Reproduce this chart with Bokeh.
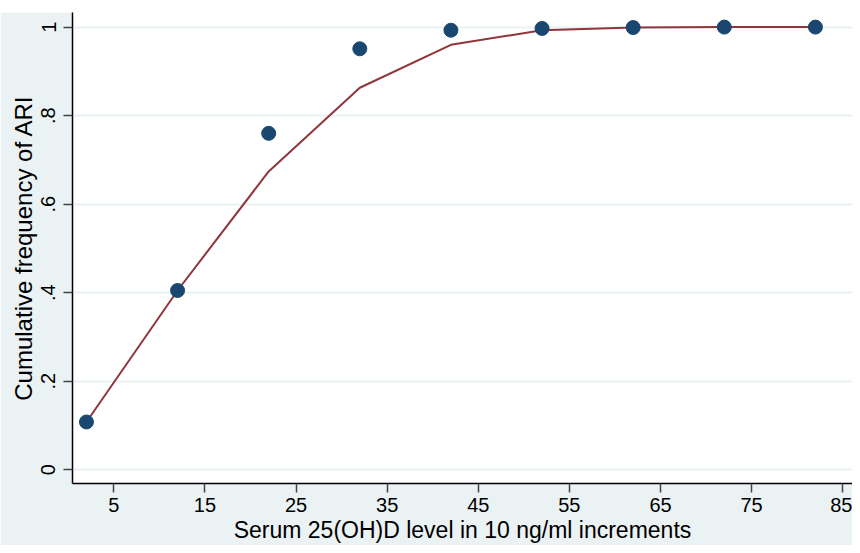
from bokeh.plotting import figure
from bokeh.models import FixedTicker, Range1d, Spacer
from bokeh.layouts import column
from bokeh.embed import file_html
from bokeh.resources import INLINE

# Data
x_levels = [2, 12, 22, 32, 42, 52, 62, 72, 82]
observed = [0.108, 0.405, 0.760, 0.951, 0.993, 0.997, 0.999, 1.0, 1.0]
fitted = [0.108, 0.405, 0.674, 0.863, 0.960, 0.993, 0.999, 1.0, 1.0]
x_ticks = [5, 15, 25, 35, 45, 55, 65, 75, 85]
y_ticks = [0, 0.2, 0.4, 0.6, 0.8, 1.0]
y_tick_labels = ["0", ".2", ".4", ".6", ".8", "1"]

BG = "#EAF2F3"
FONT = "Liberation Sans"

p = figure(width=852, height=533, output_backend="svg", toolbar_location=None,
           x_range=Range1d(0.47, 86.07), y_range=Range1d(-0.031, 1.033),
           min_border_left=72, min_border_right=0, min_border_top=0, min_border_bottom=56)
p.background_fill_color = "white"
p.border_fill_color = BG
p.outline_line_color = None

p.line(x_levels, fitted, line_color="#90353B", line_width=2)
p.scatter(x_levels, observed, size=14, fill_color="#1A476F", line_color="#1A476F")

p.xgrid.visible = False
p.ygrid.grid_line_color = BG
p.ygrid.grid_line_width = 2
p.ygrid.ticker = FixedTicker(ticks=y_ticks)

p.xaxis.ticker = FixedTicker(ticks=x_ticks)
p.yaxis.ticker = FixedTicker(ticks=y_ticks)
p.yaxis.major_label_overrides = {t: l for t, l in zip(y_ticks, y_tick_labels)}
p.yaxis.major_label_orientation = "vertical"

for ax in (p.xaxis[0], p.yaxis[0]):
    ax.axis_line_color = "black"
    ax.axis_line_width = 1.5
    ax.major_tick_line_color = "#444444"
    ax.major_tick_line_width = 1.5
    ax.major_tick_out = 9
    ax.major_tick_in = 0
    ax.minor_tick_line_color = None
    ax.major_label_text_font = FONT
    ax.major_label_text_font_size = "20px"
    ax.major_label_text_color = "black"
    ax.axis_label_text_font = FONT
    ax.axis_label_text_font_style = "normal"
    ax.axis_label_text_color = "black"

p.xaxis.axis_label = "Serum 25(OH)D level in 10 ng/ml increments"
p.yaxis.axis_label = "Cumulative frequency of ARI"
p.xaxis.axis_label_text_font_size = "23px"
p.yaxis.axis_label_text_font_size = "24px"
p.xaxis.major_label_standoff = 5
p.xaxis.axis_label_standoff = 2
p.yaxis.major_label_standoff = 8
p.yaxis.axis_label_standoff = 2

layout = column(Spacer(width=852, height=12), p, spacing=0)

open("out.html", "w").write(file_html(layout, INLINE))
